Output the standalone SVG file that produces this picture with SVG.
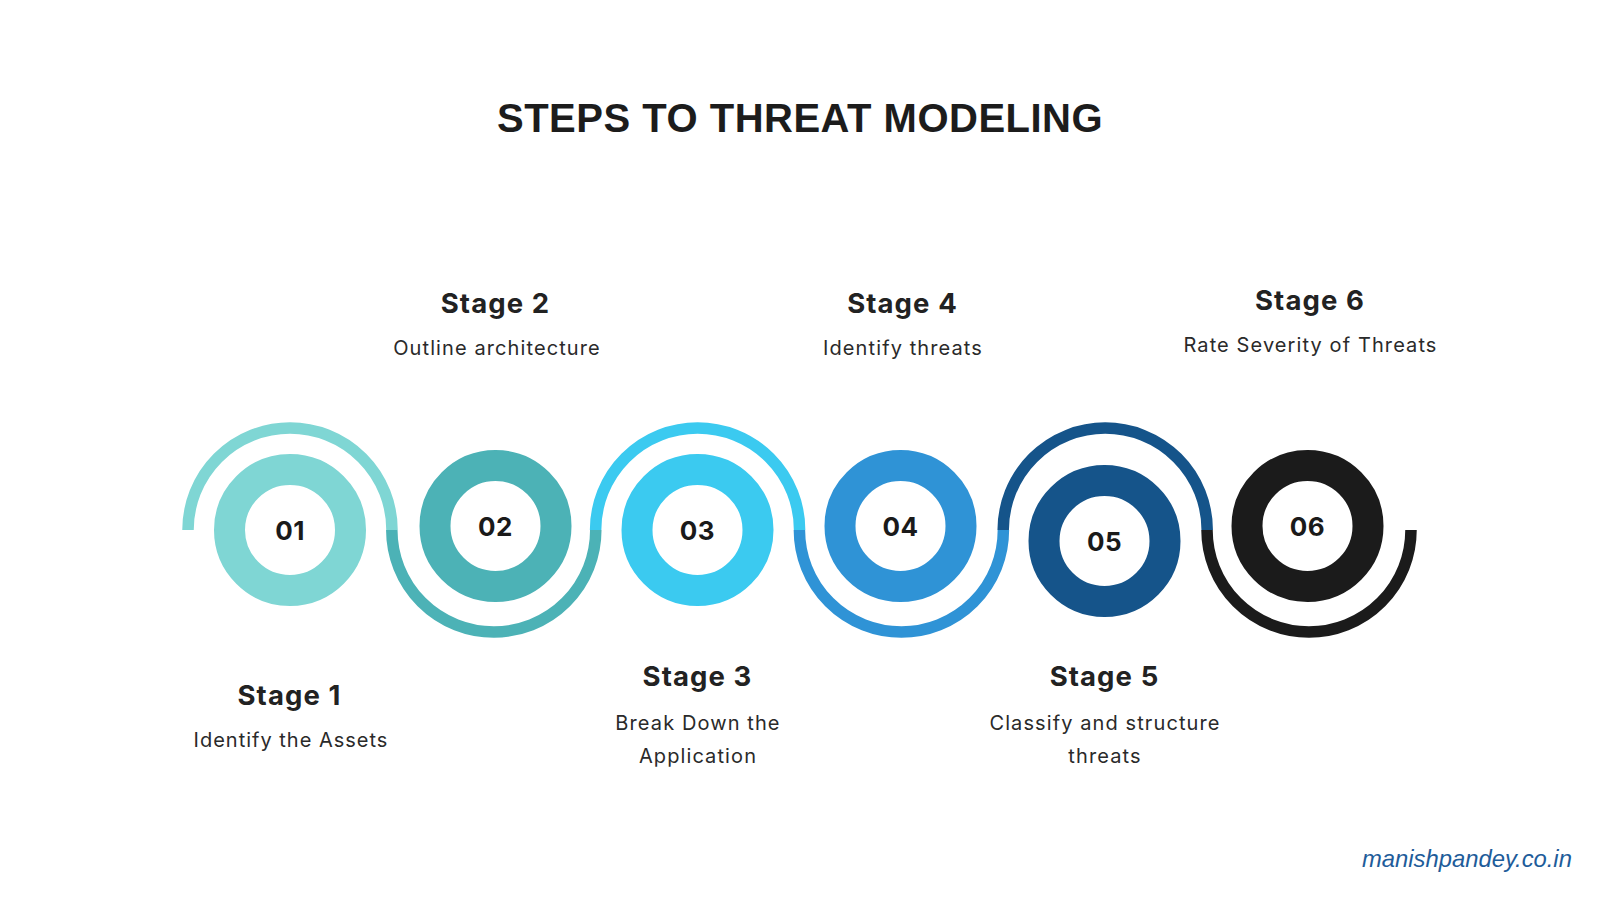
<svg xmlns="http://www.w3.org/2000/svg" width="1600" height="900" viewBox="0 0 1600 900">
  <style>
    .title { font-family: "Liberation Sans", Arial, sans-serif; font-weight: bold; font-size: 40px; fill: #1c1c1c; letter-spacing: 0.5px; }
    .stage { font-family: Inter, "Noto Sans", sans-serif; font-weight: bold; font-size: 27.5px; fill: #222222; text-anchor: middle; letter-spacing: 1.1px; }
    .desc { font-family: Inter, "Noto Sans", sans-serif; font-size: 20px; fill: #2a2a2a; text-anchor: middle; letter-spacing: 1.1px; }
    .num { font-family: Inter, "Noto Sans", sans-serif; font-weight: bold; font-size: 26px; fill: #1a1a1a; text-anchor: middle; letter-spacing: 0.5px; }
    .ring { fill: #ffffff; stroke-width: 31; }
    .arc { fill: none; stroke-width: 11.5; stroke-linecap: butt; }
    .wm { font-family: "Liberation Sans", Arial, sans-serif; font-style: italic; font-size: 23.8px; fill: #1e5c9a; }
  </style>
  <rect width="1600" height="900" fill="#ffffff"/>
  <text class="title" x="497" y="131.5">STEPS TO THREAT MODELING</text>

  <g id="connectors">
    <path class="arc" stroke="#7fd6d4" d="M 188 530 A 102 102 0 0 1 392 530"/>
    <path class="arc" stroke="#4cb2b6" d="M 391.8 530 A 102 102 0 0 0 595.8 530"/>
    <path class="arc" stroke="#3bcaf0" d="M 595.6 530 A 102 102 0 0 1 799.6 530"/>
    <path class="arc" stroke="#2f93d6" d="M 799.4 530 A 102 102 0 0 0 1003.4 530"/>
    <path class="arc" stroke="#15548a" d="M 1003.2 530 A 102 102 0 0 1 1207.2 530"/>
    <path class="arc" stroke="#1b1b1b" d="M 1207 530 A 102 102 0 0 0 1411 530"/>
  </g>

  <g id="stage1">
    <circle class="ring" cx="290" cy="530" r="60.5" stroke="#7fd6d4"/>
    <text class="num" x="290" y="540">01</text>
    <text class="stage" x="289.5" y="705">Stage 1</text>
    <text class="desc" x="291" y="746.5" style="letter-spacing:1px">Identify the Assets</text>
  </g>
  <g id="stage2">
    <circle class="ring" cx="495.5" cy="526" r="60.5" stroke="#4cb2b6"/>
    <text class="num" x="495.5" y="535.5">02</text>
    <text class="stage" x="495.5" y="313">Stage 2</text>
    <text class="desc" x="497" y="355">Outline architecture</text>
  </g>
  <g id="stage3">
    <circle class="ring" cx="697.5" cy="530" r="60.5" stroke="#3bcaf0"/>
    <text class="num" x="697.5" y="539.5">03</text>
    <text class="stage" x="697.5" y="686">Stage 3</text>
    <text class="desc" x="698" y="730">Break Down the</text>
    <text class="desc" x="698" y="763.3">Application</text>
  </g>
  <g id="stage4">
    <circle class="ring" cx="900.5" cy="526" r="60.5" stroke="#2f93d6"/>
    <text class="num" x="900.5" y="535.5">04</text>
    <text class="stage" x="902.5" y="313">Stage 4</text>
    <text class="desc" x="903" y="355">Identify threats</text>
  </g>
  <g id="stage5">
    <circle class="ring" cx="1104.5" cy="541" r="60.5" stroke="#15548a"/>
    <text class="num" x="1104.5" y="550.5">05</text>
    <text class="stage" x="1104.5" y="686">Stage 5</text>
    <text class="desc" x="1105" y="730">Classify and structure</text>
    <text class="desc" x="1105" y="763.3">threats</text>
  </g>
  <g id="stage6">
    <circle class="ring" cx="1307.5" cy="526" r="60.5" stroke="#1b1b1b"/>
    <text class="num" x="1307.5" y="535.5">06</text>
    <text class="stage" x="1310" y="310">Stage 6</text>
    <text class="desc" x="1310.5" y="352.3">Rate Severity of Threats</text>
  </g>

  <text class="wm" x="1362" y="867">manishpandey.co.in</text>
</svg>
